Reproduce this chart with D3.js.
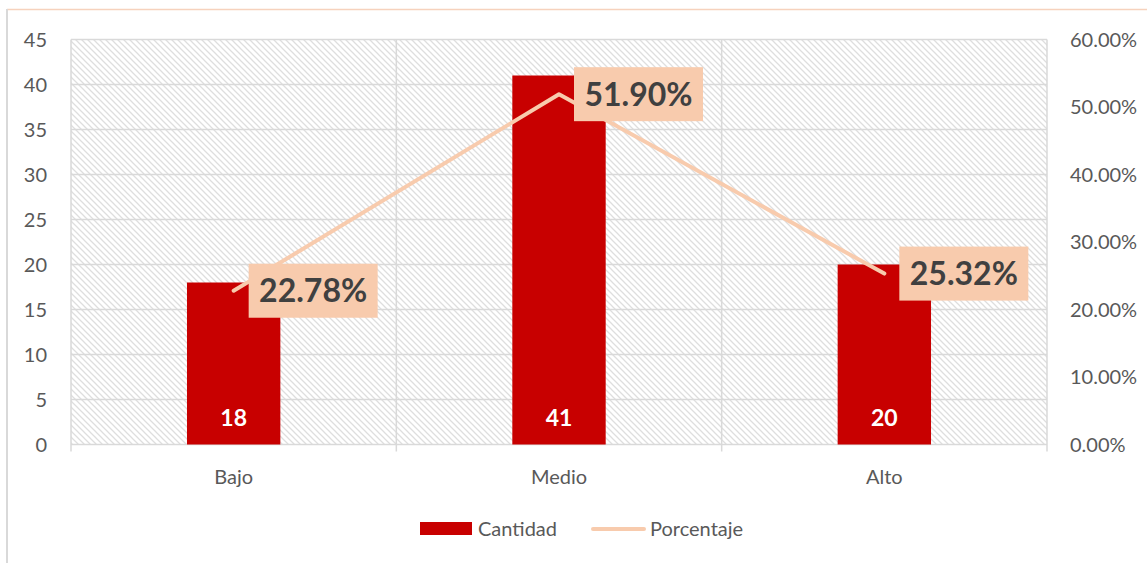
<!DOCTYPE html>
<html>
<head>
<meta charset="utf-8">
<script src="https://cdn.jsdelivr.net/npm/d3@7"></script>
<style>
  body { margin: 0; background: #fff; }
  text { font-family: Lato, "Open Sans", sans-serif; }
</style>
</head>
<body>
<script>
var categories = ["Bajo", "Medio", "Alto"];
var cantidad = [18, 41, 20];
var porcentaje = [0.2278, 0.5190, 0.2532];
var leftTicks = [0, 5, 10, 15, 20, 25, 30, 35, 40, 45];
var rightTicks = [0, 0.1, 0.2, 0.3, 0.4, 0.5, 0.6];

var width = 1147, height = 563;
var plotLeft = 71, plotRight = 1047, plotTop = 39.5, plotBottom = 444.5;

var svg = d3.select("body").append("svg")
    .attr("width", width)
    .attr("height", height);

// hatch pattern for plot background
var defs = svg.append("defs");
defs.append("pattern")
    .attr("id", "hatch")
    .attr("width", 6)
    .attr("height", 6)
    .attr("patternUnits", "userSpaceOnUse")
  .append("path")
    .attr("d", "M-1,-1 L7,7 M-1,5 L1,7 M5,-1 L7,1")
    .attr("stroke", "#dedede")
    .attr("stroke-width", 1.3);

// outer chart border
svg.append("line")
    .attr("x1", 7).attr("y1", 9.5).attr("x2", width).attr("y2", 9.5)
    .attr("stroke", "#f6d2bd").attr("stroke-width", 1.5);
svg.append("line")
    .attr("x1", 7).attr("y1", 9).attr("x2", 7).attr("y2", height)
    .attr("stroke", "#d9d9d9").attr("stroke-width", 2);

var x = d3.scaleBand()
    .domain(categories)
    .range([plotLeft, plotRight])
    .padding(0);

var yLeft = d3.scaleLinear().domain([0, 45]).range([plotBottom, plotTop]);
var yRight = d3.scaleLinear().domain([0, 0.6]).range([plotBottom, plotTop]);

svg.append("rect")
    .attr("x", plotLeft).attr("y", plotTop)
    .attr("width", plotRight - plotLeft).attr("height", plotBottom - plotTop)
    .attr("fill", "url(#hatch)");

// horizontal gridlines
svg.append("g").selectAll("line")
    .data(leftTicks)
    .join("line")
    .attr("x1", plotLeft).attr("x2", plotRight)
    .attr("y1", d => yLeft(d)).attr("y2", d => yLeft(d))
    .attr("stroke", "#d9d9d9").attr("stroke-width", 1.5);

// vertical lines at category boundaries (with tick extension)
var bounds = categories.map(c => x(c)).concat([plotRight]);
svg.append("g").selectAll("line")
    .data(bounds)
    .join("line")
    .attr("x1", d => d).attr("x2", d => d)
    .attr("y1", plotTop).attr("y2", plotBottom + 7)
    .attr("stroke", "#d9d9d9").attr("stroke-width", 1.5);

// left axis labels
svg.append("g").selectAll("text")
    .data(leftTicks)
    .join("text")
    .attr("x", 47)
    .attr("y", d => yLeft(d))
    .attr("dy", "0.35em")
    .attr("text-anchor", "end")
    .attr("font-size", 20)
    .attr("fill", "#595959")
    .text(d => d);

// right axis labels
svg.append("g").selectAll("text")
    .data(rightTicks)
    .join("text")
    .attr("x", 1070)
    .attr("y", d => yRight(d))
    .attr("dy", "0.35em")
    .attr("font-size", 20)
    .attr("fill", "#595959")
    .text(d => (d * 100).toFixed(2) + "%");

// category labels
svg.append("g").selectAll("text")
    .data(categories)
    .join("text")
    .attr("x", d => x(d) + x.bandwidth() / 2)
    .attr("y", 477)
    .attr("dy", "0.35em")
    .attr("text-anchor", "middle")
    .attr("font-size", 20)
    .attr("fill", "#595959")
    .text(d => d);

// bars
var barW = x.bandwidth() * 0.287;
svg.append("g").selectAll("rect")
    .data(cantidad)
    .join("rect")
    .attr("x", (d, i) => x(categories[i]) + x.bandwidth() / 2 - barW / 2)
    .attr("y", d => yLeft(d))
    .attr("width", barW)
    .attr("height", d => plotBottom - yLeft(d))
    .attr("fill", "#c80000");

// bar value labels
svg.append("g").selectAll("text")
    .data(cantidad)
    .join("text")
    .attr("x", (d, i) => x(categories[i]) + x.bandwidth() / 2)
    .attr("y", 418)
    .attr("dy", "0.35em")
    .attr("text-anchor", "middle")
    .attr("font-size", 23)
    .attr("font-weight", "bold")
    .attr("fill", "#fff")
    .text(d => d);

// percentage line
var line = d3.line()
    .x((d, i) => x(categories[i]) + x.bandwidth() / 2)
    .y(d => yRight(d));

svg.append("path")
    .datum(porcentaje)
    .attr("d", line)
    .attr("fill", "none")
    .attr("stroke", "#f8cbad")
    .attr("stroke-width", 4)
    .attr("stroke-linecap", "round")
    .attr("stroke-linejoin", "round");

// percentage labels
var lbl = svg.append("g").selectAll("g")
    .data(porcentaje)
    .join("g")
    .attr("transform", (d, i) => "translate(" + (x(categories[i]) + x.bandwidth() / 2 + 15) + "," + yRight(d) + ")");

lbl.append("rect")
    .attr("x", 0).attr("y", -27)
    .attr("width", 129).attr("height", 54)
    .attr("fill", "#f8cbad");

lbl.append("text")
    .attr("x", 64.5)
    .attr("y", 0)
    .attr("dy", "0.36em")
    .attr("text-anchor", "middle")
    .attr("font-size", 32)
    .attr("font-weight", "bold")
    .attr("fill", "#404040")
    .text(d => (d * 100).toFixed(2) + "%");

// legend
var legend = svg.append("g");
legend.append("rect")
    .attr("x", 420).attr("y", 522)
    .attr("width", 52).attr("height", 13)
    .attr("fill", "#c80000");
legend.append("text")
    .attr("x", 478).attr("y", 529)
    .attr("dy", "0.35em")
    .attr("font-size", 20)
    .attr("fill", "#595959")
    .text("Cantidad");
legend.append("line")
    .attr("x1", 593).attr("x2", 644)
    .attr("y1", 529).attr("y2", 529)
    .attr("stroke", "#f8cbad")
    .attr("stroke-width", 4)
    .attr("stroke-linecap", "round");
legend.append("text")
    .attr("x", 650).attr("y", 529)
    .attr("dy", "0.35em")
    .attr("font-size", 20)
    .attr("fill", "#595959")
    .text("Porcentaje");
</script>
</body>
</html>
